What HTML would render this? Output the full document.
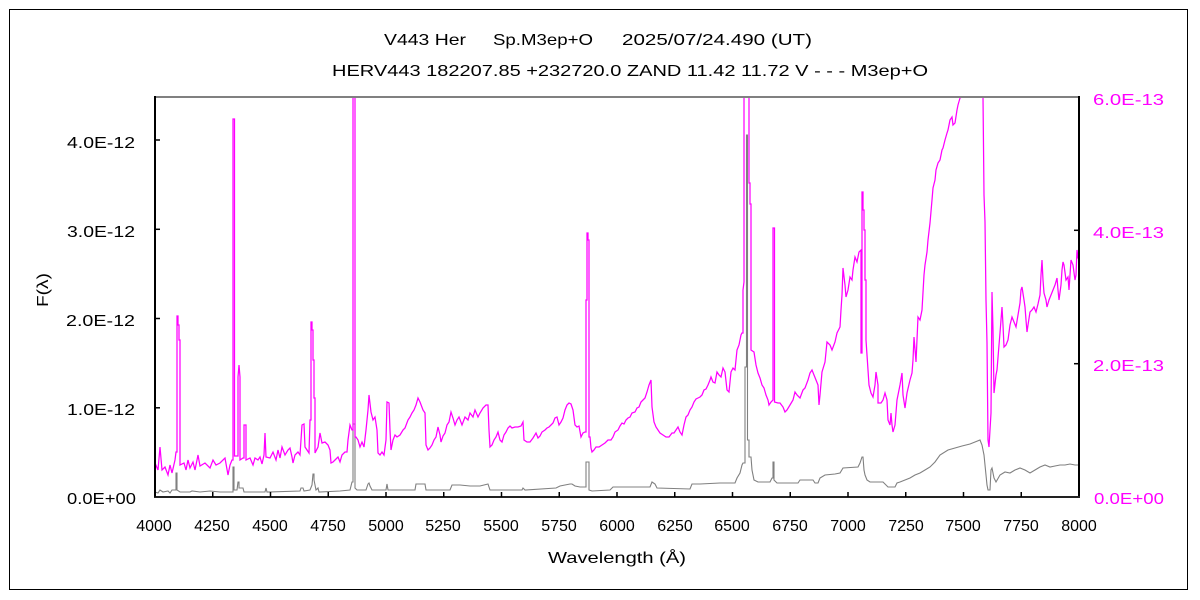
<!DOCTYPE html>
<html>
<head>
<meta charset="utf-8">
<style>
  html,body{margin:0;padding:0;background:#fff;}
  svg{display:block;}
  text{font-family:"Liberation Sans","IPAGothic",sans-serif;}
</style>
</head>
<body>
<svg width="1200" height="600" viewBox="0 0 1200 600" xmlns="http://www.w3.org/2000/svg">
  <rect x="0" y="0" width="1200" height="600" fill="#fff"/>
  <rect x="9.5" y="9.5" width="1178" height="580" fill="none" stroke="#000" stroke-width="1"/>

  <!-- titles -->
  <text x="384" y="45" font-size="16" textLength="82" lengthAdjust="spacingAndGlyphs">V443 Her</text>
  <text x="493" y="45" font-size="16" textLength="100" lengthAdjust="spacingAndGlyphs">Sp.M3ep+O</text>
  <text x="622" y="45" font-size="16" textLength="190" lengthAdjust="spacingAndGlyphs">2025/07/24.490 (UT)</text>
  <text x="332" y="76" font-size="16" textLength="596" lengthAdjust="spacingAndGlyphs">HERV443 182207.85 +232720.0 ZAND 11.42 11.72 V - - - M3ep+O</text>

  <defs>
    <clipPath id="pa"><rect x="155" y="96" width="925" height="402"/></clipPath>
  </defs>

  <g clip-path="url(#pa)" fill="none" stroke-linejoin="miter">
    <polyline stroke="#808080" stroke-width="1.1" points="155,492 158,493 160,490 163,492 168,491 170,493 172,490 175,490 176,490 176,473 177,473 177,490 180,492 190,492 192,491 200,492 210,491 220,492 232,492 233,492 233,467 234,467 234,490 237,490 238,482 239,482 239,488 243,488 244,492 265,492 266,488 267,492 300,491 301,488 303,488 304,491 310,490 312,485 313,474 314,474 314,480 316,490 318,488 319,492 340,491 350,490 352,482 353,482 353,424 355,424 355,488 357,490 366,490 368,484 369,483 370,486 372,490 386,490 387,484 388,490 415,490 416,484 425,484 426,490 450,490 452,485 460,485 470,486 480,486 488,484 490,490 522,490 523,488 525,490 556,488 560,486 570,484 572,484 575,486 580,487 586,487 586,462 589,462 589,490 592,491 610,490 613,487 650,487 652,482 655,484 657,488 690,489 692,484 700,484 720,483 735,483 737,478 740,473 742,465 743,463 745,463 745,367 746.5,367 746.5,135 747.5,135 747.5,440 749,440 749,457 751,457 752,470 754,480 758,482 770,482 772,478 773,478 773,462 774,462 774,480 777,483 798,483 800,480 813,480 815,483 818,483 820,478 825,475 835,474 840,473 843,468 858,467 860,463 862,457 863,457 864,470 865,475 867,480 870,482 883,482 888,487 895,487 897,483 900,482 905,480 910,478 915,475 920,473 925,470 930,467 935,462 940,455 948,450 955,448 962,446 970,444 975,442 980,440 982,445 984,455 986,475 987,485 988,490 990,490 991,470 992,468 994,478 996,482 1000,475 1005,472 1010,473 1015,470 1020,468 1025,470 1030,473 1035,470 1040,467 1045,465 1050,467 1055,466 1060,465 1065,465 1070,464 1075,465 1079,465"/>
    <polyline stroke="#ff00ff" stroke-width="1.25" points="155,463 158,470 160,447 162,470 165,467 168,475 170,465 172,473 175,460 176,452 177,452 177,316 178,316 178,325 179,325 179,340 180,340 180,465 184,463 186,470 188,460 190,468 193,462 195,470 198,455 200,466 205,463 210,468 213,460 216,465 220,463 225,458 228,475 230,465 232,460 233,460 233,119 234.5,119 234.5,456 236,456 238,456 238,377 239,365 240,377 240,460 243,458 244,458 244,425 246,425 246,460 250,458 253,465 255,458 258,460 260,457 262,464 264,455 265,433 266,457 270,458 273,452 276,460 278,450 280,458 282,447 285,455 288,450 290,448 292,457 293,463 295,455 298,452 300,455 302,425 304,424 305,447 307,450 309,453 310,420 311,420 311,322 312,322 312,330 313,330 313,360 314,360 314,398 315,398 315,453 318,447 320,433 322,443 325,442 328,445 330,450 331,463 333,462 335,460 338,457 340,462 342,455 345,452 347,452 348,440 350,425 352,430 353,430 353,97 355,97 355,437 356,437 358,440 360,447 362,442 364,447 366,430 368,410 369,395 371,412 373,420 375,417 377,430 378,453 380,455 382,452 384,455 386,440 387,402 389,403 390,430 391,450 393,440 395,435 397,437 400,435 403,430 405,428 408,420 410,417 412,413 414,410 416,405 418,398 420,402 423,410 425,413 426,445 428,450 430,448 432,445 434,440 436,437 438,427 440,435 441,442 443,436 445,433 447,425 449,422 451,412 453,418 455,425 457,420 459,417 462,425 465,417 468,420 470,413 473,417 475,410 478,417 480,413 483,408 486,405 488,405 489,430 490,447 492,445 494,440 496,437 498,432 500,440 502,442 504,435 506,432 508,428 510,426 512,428 515,427 518,427 521,426 523,422 524,440 527,442 530,442 533,438 536,433 538,438 540,436 542,432 545,430 547,428 549,427 551,425 553,423 555,418 557,417 559,425 561,422 563,418 565,410 567,405 569,403 571,404 573,410 575,425 577,427 579,426 581,437 583,433 585,432 586,432 586,300 587,300 587,233 588,233 588,240 589,240 589,437 590,437 591,448 592,452 594,450 596,447 599,447 602,445 605,443 608,440 611,440 613,437 615,432 618,430 620,426 622,423 624,424 626,420 628,418 630,417 632,413 635,412 637,408 639,407 641,402 643,400 645,398 647,392 649,385 651,380 652,407 654,422 656,427 658,430 660,433 663,435 666,437 669,437 672,433 674,433 676,430 678,427 680,432 682,435 684,425 686,417 688,415 690,410 692,407 694,402 696,399 698,398 700,397 702,395 704,390 706,389 708,385 710,380 711,377 713,382 715,383 717,372 719,375 721,377 723,368 725,372 727,390 729,392 731,372 733,368 735,370 737,350 739,345 741,335 742,333 743,333 743,290 744,282 744,97 749,97 749,183 750,183 750,204 751,204 751,350 754,352 756,365 758,373 760,378 762,385 764,388 766,395 768,400 769,405 771,402 773,400 773,228 774.5,228 774.5,402 778,403 780,403 783,407 785,412 787,410 790,405 793,400 795,392 797,395 800,398 803,390 805,388 808,380 810,373 812,370 814,375 816,380 818,385 819,405 820,395 822,372 825,362 827,342 830,345 832,350 835,342 837,333 840,327 841,310 842,295 843,268 845,285 846,297 848,290 850,277 852,280 853,270 855,257 857,262 859,252 861,250 861,353 862,353 862,192 863,192 863,210 864,210 864,230 865,230 865,280 866,280 866,340 868,370 869,385 871,393 873,397 875,385 876,372 878,385 878,403 881,403 883,400 885,393 887,400 888,420 890,425 891,413 892,425 893,432 895,425 897,400 900,385 902,373 903,395 905,408 907,393 910,380 912,373 913,360 914,337 916,362 918,317 920,320 922,310 924,275 925,265 927,252 928,240 930,223 932,200 933,188 935,180 936,170 938,163 940,160 942,150 943,148 945,140 947,133 948,130 950,120 952,117 953,125 955,123 957,110 958,105 960,98 962,97 983,97 984,195 985,222 986,300 987,343 988,440 989,447 990,430 991,413 992,292 993,330 994,393 996,375 997,370 999,345 1000,333 1001,320 1002,307 1003,325 1004,347 1006,345 1008,340 1010,325 1012,317 1014,322 1016,327 1018,315 1020,303 1021,290 1022,287 1024,300 1025,307 1026,320 1027,332 1028,325 1030,312 1032,310 1034,307 1036,312 1038,304 1040,295 1041,275 1042,260 1043,280 1044,293 1046,300 1047,307 1049,300 1051,295 1053,290 1055,285 1057,278 1058,290 1059,300 1061,285 1062,270 1063,262 1064,265 1066,280 1068,277 1069,290 1070,275 1071,260 1073,265 1075,280 1076,275 1077,250 1078,258 1079,258"/>
  </g>

  <!-- axes -->
  <line x1="155" y1="97" x2="1080" y2="97" stroke="#808080" stroke-width="2"/>
  <line x1="155" y1="96" x2="155" y2="498" stroke="#000" stroke-width="2"/>
  <line x1="1079" y1="96" x2="1079" y2="498" stroke="#000" stroke-width="2"/>
  <line x1="154" y1="497" x2="1080" y2="497" stroke="#222" stroke-width="2"/>

  <!-- x ticks -->
  <g stroke="#000" stroke-width="1.5">
    <line x1="155" y1="492" x2="155" y2="497"/>
    <line x1="212.75" y1="492" x2="212.75" y2="497"/>
    <line x1="270.5" y1="492" x2="270.5" y2="497"/>
    <line x1="328.25" y1="492" x2="328.25" y2="497"/>
    <line x1="386" y1="492" x2="386" y2="497"/>
    <line x1="443.75" y1="492" x2="443.75" y2="497"/>
    <line x1="501.5" y1="492" x2="501.5" y2="497"/>
    <line x1="559.25" y1="492" x2="559.25" y2="497"/>
    <line x1="617" y1="492" x2="617" y2="497"/>
    <line x1="674.75" y1="492" x2="674.75" y2="497"/>
    <line x1="732.5" y1="492" x2="732.5" y2="497"/>
    <line x1="790.25" y1="492" x2="790.25" y2="497"/>
    <line x1="848" y1="492" x2="848" y2="497"/>
    <line x1="905.75" y1="492" x2="905.75" y2="497"/>
    <line x1="963.5" y1="492" x2="963.5" y2="497"/>
    <line x1="1021.25" y1="492" x2="1021.25" y2="497"/>
    <!-- left ticks -->
    <line x1="155" y1="140" x2="160" y2="140"/>
    <line x1="155" y1="229.3" x2="160" y2="229.3"/>
    <line x1="155" y1="318.5" x2="160" y2="318.5"/>
    <line x1="155" y1="407.8" x2="160" y2="407.8"/>
    <!-- right ticks -->
    <line x1="1074" y1="230.3" x2="1079" y2="230.3"/>
    <line x1="1074" y1="363.7" x2="1079" y2="363.7"/>
  </g>

  <!-- left labels -->
  <g font-size="16" fill="#000">
    <text x="67" y="148" textLength="68" lengthAdjust="spacingAndGlyphs">4.0E-12</text>
    <text x="67" y="237" textLength="68" lengthAdjust="spacingAndGlyphs">3.0E-12</text>
    <text x="66" y="326" textLength="69" lengthAdjust="spacingAndGlyphs">2.0E-12</text>
    <text x="67" y="415" textLength="68" lengthAdjust="spacingAndGlyphs">1.0E-12</text>
    <text x="67" y="504" textLength="69" lengthAdjust="spacingAndGlyphs">0.0E+00</text>
  </g>
  <!-- right labels -->
  <g font-size="16" fill="#ff00ff">
    <text x="1093" y="105" textLength="71" lengthAdjust="spacingAndGlyphs">6.0E-13</text>
    <text x="1093" y="238" textLength="71" lengthAdjust="spacingAndGlyphs">4.0E-13</text>
    <text x="1093" y="371" textLength="71" lengthAdjust="spacingAndGlyphs">2.0E-13</text>
    <text x="1094" y="504" textLength="70" lengthAdjust="spacingAndGlyphs">0.0E+00</text>
  </g>
  <!-- x labels -->
  <g font-size="16" fill="#000" text-anchor="middle">
    <text x="154" y="531">4000</text>
    <text x="212" y="531">4250</text>
    <text x="270" y="531">4500</text>
    <text x="328" y="531">4750</text>
    <text x="386" y="531">5000</text>
    <text x="443" y="531">5250</text>
    <text x="501" y="531">5500</text>
    <text x="559" y="531">5750</text>
    <text x="617" y="531">6000</text>
    <text x="675" y="531">6250</text>
    <text x="732" y="531">6500</text>
    <text x="790" y="531">6750</text>
    <text x="848" y="531">7000</text>
    <text x="906" y="531">7250</text>
    <text x="963" y="531">7500</text>
    <text x="1021" y="531">7750</text>
    <text x="1079" y="531">8000</text>
  </g>
  <text x="548" y="563" font-size="16" textLength="138" lengthAdjust="spacingAndGlyphs">Wavelength (Å)</text>
  <text x="0" y="0" font-size="16" transform="translate(48,307) rotate(-90)" textLength="34" lengthAdjust="spacingAndGlyphs">F(λ)</text>
</svg>
</body>
</html>
